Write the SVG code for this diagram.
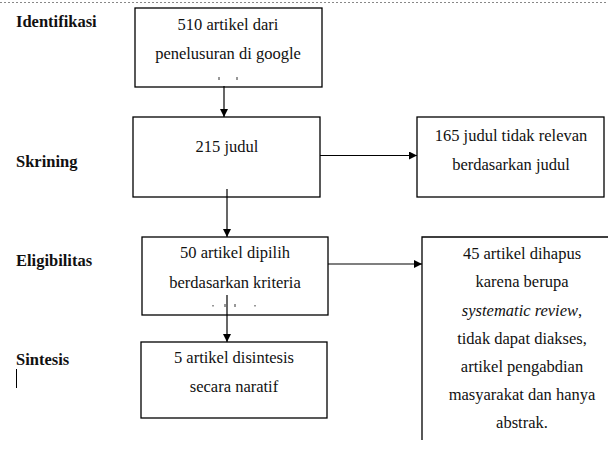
<svg xmlns="http://www.w3.org/2000/svg" width="608" height="465" viewBox="0 0 608 465">
<style>
.bx{fill:#fff;stroke:#000;stroke-width:1.3}
.t{font-family:"Liberation Serif","Times New Roman",Times,"Noto Serif","DejaVu Serif",FreeSerif,"Nimbus Roman","Nimbus Roman No9 L",Tinos,Georgia,serif;font-size:16.5px;fill:#111;text-anchor:middle}
.lb{font-family:"Liberation Serif","Times New Roman",Times,"Noto Serif","DejaVu Serif",FreeSerif,"Nimbus Roman","Nimbus Roman No9 L",Tinos,Georgia,serif;font-size:16.5px;font-weight:bold;fill:#111}
.c{stroke:#000;stroke-width:1.2;fill:none}
.tick{stroke:#333;stroke-width:1}
</style>
<defs>
<marker id="ah" viewBox="0 0 10 10" refX="10" refY="5" markerWidth="8" markerHeight="8" markerUnits="userSpaceOnUse" orient="auto">
<path d="M0,0 L10,5 L0,10 z" fill="#000"/>
</marker>
</defs>
<rect width="608" height="465" fill="#fff"/>
<line x1="0" y1="2.5" x2="608" y2="2.5" stroke="#888" stroke-width="1" stroke-dasharray="2,2"/>
<g id="labels">
<text class="lb" x="16" y="27">Identifikasi</text>
<text class="lb" x="16" y="167">Skrining</text>
<text class="lb" x="16" y="266">Eligibilitas</text>
<text class="lb" x="16" y="365">Sintesis</text>
<line x1="16.5" y1="369" x2="16.5" y2="388" stroke="#000" stroke-width="1"/>
</g>
<g id="n1">
<rect class="bx" x="135" y="8" width="187" height="79"/>
<text class="t" x="228" y="30">510 artikel dari</text>
<text class="t" x="228" y="59">penelusuran di google</text>
<line class="tick" x1="219" y1="77" x2="219" y2="80"/>
<line class="tick" x1="237" y1="77" x2="237" y2="80"/>
</g>
<g id="n2">
<rect class="bx" x="133" y="117" width="187" height="80"/>
<text class="t" x="227" y="152">215 judul</text>
</g>
<g id="n3">
<rect class="bx" x="417" y="117" width="187" height="80"/>
<text class="t" x="511" y="141">165 judul tidak relevan</text>
<text class="t" x="511" y="170">berdasarkan judul</text>
</g>
<g id="n4">
<rect class="bx" x="142" y="237" width="186" height="78"/>
<text class="t" x="235" y="258">50 artikel dipilih</text>
<text class="t" x="235" y="288">berdasarkan kriteria</text>
<g class="tick">
<line x1="213" y1="305" x2="213" y2="306.5"/>
<line x1="225" y1="304" x2="225" y2="307"/>
<line x1="235" y1="304" x2="235" y2="307"/>
<line x1="255" y1="305" x2="255" y2="306.5"/>
</g>
</g>
<g id="n5">
<rect class="bx" x="141" y="342" width="186" height="76"/>
<text class="t" x="234" y="363">5 artikel disintesis</text>
<text class="t" x="234" y="392">secara naratif</text>
</g>
<g id="n6">
<path class="bx" d="M610,237 L422,237 L422,440"/>
<text class="t" x="522" y="259">45 artikel dihapus</text>
<text class="t" x="522" y="287">karena berupa</text>
<text class="t" x="522" y="316" font-style="italic">systematic review<tspan font-style="normal">,</tspan></text>
<text class="t" x="522" y="344">tidak dapat diakses,</text>
<text class="t" x="522" y="372">artikel pengabdian</text>
<text class="t" x="522" y="400">masyarakat dan hanya</text>
<text class="t" x="522" y="428">abstrak.</text>
</g>
<g id="connectors">
<line class="c" x1="224" y1="86" x2="224" y2="117" marker-end="url(#ah)"/>
<line class="c" x1="320" y1="155.5" x2="417" y2="155.5" marker-end="url(#ah)"/>
<line class="c" x1="227" y1="189" x2="227" y2="237" marker-end="url(#ah)"/>
<line class="c" x1="328" y1="264" x2="422" y2="264" marker-end="url(#ah)"/>
<line class="c" x1="227" y1="295" x2="227" y2="342" marker-end="url(#ah)"/>
</g>
</svg>
